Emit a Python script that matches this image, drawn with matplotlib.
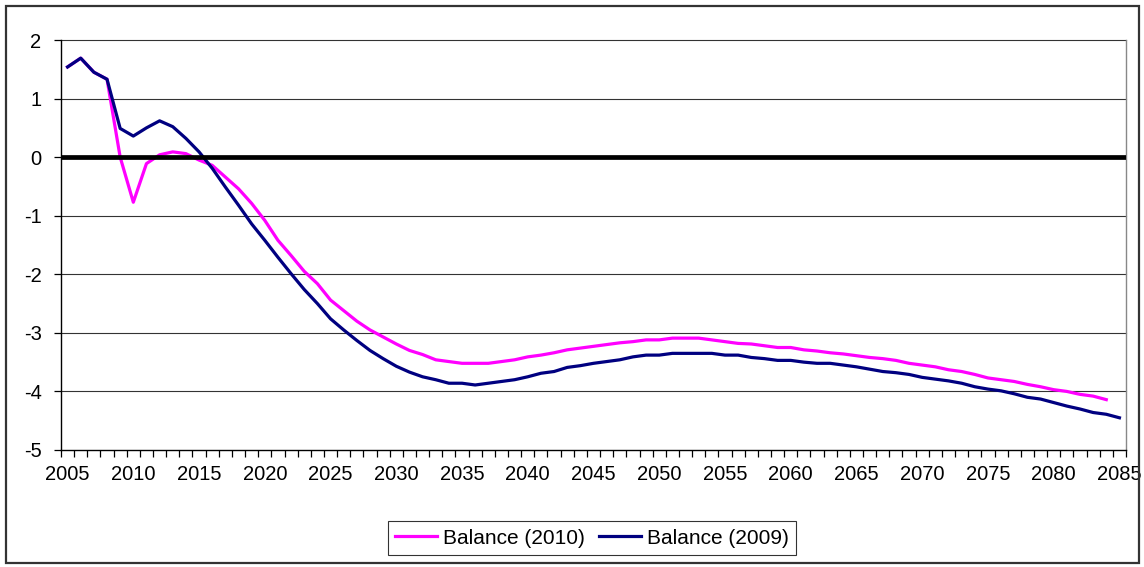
import matplotlib
matplotlib.use("Agg")
import matplotlib.pyplot as plt
import numpy as np
from matplotlib.patches import Rectangle

plt.rcParams['font.family'] = ['Liberation Sans', 'DejaVu Sans']

years = list(range(2005, 2086))

balance_2009 = [
    1.54, 1.69, 1.45, 1.33, 0.49, 0.36, 0.50, 0.62, 0.52, 0.32,
    0.09, -0.19, -0.51, -0.82, -1.14, -1.42, -1.71, -1.99, -2.26, -2.50,
    -2.76, -2.95, -3.13, -3.30, -3.44, -3.57, -3.67, -3.75, -3.80, -3.86,
    -3.86, -3.89, -3.86, -3.83, -3.80, -3.75, -3.69, -3.66, -3.59, -3.56,
    -3.52, -3.49, -3.46, -3.41, -3.38, -3.38, -3.35, -3.35, -3.35, -3.35,
    -3.38, -3.38, -3.42, -3.44, -3.47, -3.47, -3.50, -3.52, -3.52, -3.55,
    -3.58, -3.62, -3.66, -3.68, -3.71, -3.76, -3.79, -3.82, -3.86, -3.92,
    -3.96, -3.99, -4.04, -4.10, -4.13, -4.19, -4.25, -4.30, -4.36, -4.39,
    -4.45,
]

balance_2010 = [
    1.54, 1.69, 1.45, 1.33, 0.00, -0.77, -0.11, 0.04, 0.09, 0.06,
    -0.05, -0.14, -0.34, -0.54, -0.79, -1.08, -1.42, -1.68, -1.95, -2.16,
    -2.44, -2.62, -2.80, -2.95, -3.07, -3.19, -3.30, -3.37, -3.46, -3.49,
    -3.52, -3.52, -3.52, -3.49, -3.46, -3.41, -3.38, -3.34, -3.29, -3.26,
    -3.23, -3.20, -3.17, -3.15, -3.12, -3.12, -3.09, -3.09, -3.09, -3.12,
    -3.15, -3.18, -3.19, -3.22, -3.25, -3.25, -3.29, -3.31, -3.34, -3.36,
    -3.39, -3.42, -3.44, -3.47, -3.52, -3.55, -3.58, -3.63, -3.66, -3.71,
    -3.77, -3.80, -3.83, -3.88, -3.92, -3.97, -4.00, -4.05, -4.08, -4.14,
    np.nan,
]

y_ticks = [2, 1, 0, -1, -2, -3, -4, -5]
x_labels = list(range(2005, 2086, 5))

W, H = 1144, 567
fig = plt.figure(figsize=(W / 100, H / 100), dpi=100)
ax = fig.add_axes([61 / W, 1 - 450 / H, (1126 - 61) / W, (450 - 40) / H])

# gridlines
for v in y_ticks:
    if v in (0, -5):
        continue
    ax.axhline(v, color='#333333', lw=0.8, zorder=1, clip_on=False)
ax.axhline(0, color='black', lw=3.4, zorder=4)

ax.plot(years, balance_2010, color='#FF00FF', lw=2.3, label='Balance (2010)', zorder=3)
ax.plot(years, balance_2009, color='#000080', lw=2.3, label='Balance (2009)', zorder=3)

ax.set_xlim(2004.5, 2085.5)
ax.set_ylim(-5, 2)

ax.set_yticks(y_ticks)
ax.set_yticklabels([str(v) for v in y_ticks])
ax.set_xticks(x_labels)
ax.set_xticklabels([str(v) for v in x_labels])
ax.set_xticks(np.arange(2004.5, 2086, 1.0), minor=True)
ax.tick_params(axis='x', which='major', length=0, pad=11, labelsize=14.5)
ax.tick_params(axis='x', which='minor', length=5, width=0.9, direction='out', color='black')
ax.tick_params(axis='y', which='major', length=5, width=0.9, direction='out', labelsize=14.5, pad=9)

ax.spines['top'].set_visible(False)
ax.spines['right'].set_color('#888888')
ax.spines['right'].set_linewidth(1.0)
ax.spines['left'].set_linewidth(1.0)
ax.spines['bottom'].set_linewidth(1.0)

leg = fig.legend(loc='center', bbox_to_anchor=(592 / W, 1 - 538 / H), ncol=2,
                 fontsize=15, frameon=True, fancybox=False, handlelength=2.0,
                 handletextpad=0.3, columnspacing=0.7, borderpad=0.35,
                 edgecolor='black')
leg.get_frame().set_linewidth(0.8)

fig.patches.append(Rectangle((6 / W, 1 - 563 / H), (1139 - 6) / W, (563 - 6) / H,
                             transform=fig.transFigure, fill=False,
                             edgecolor='#333333', lw=1.6))

fig.savefig('out.png', dpi=100)
